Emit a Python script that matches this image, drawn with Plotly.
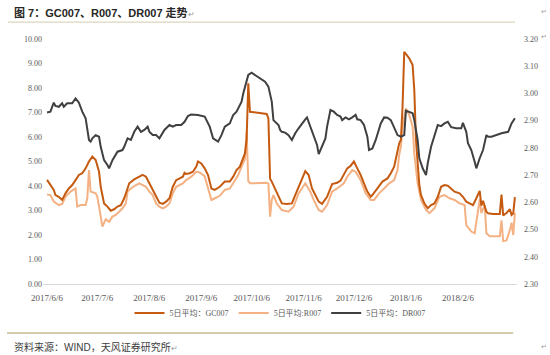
import plotly.graph_objects as go

# ---------------- data ----------------
gc_dates = ["2017-06-06","2017-06-10","2017-06-11","2017-06-13","2017-06-15","2017-06-17","2017-06-19","2017-06-21","2017-06-23","2017-06-25",
            "2017-06-27","2017-06-29","2017-07-01","2017-07-03","2017-07-05","2017-07-07","2017-07-08","2017-07-10","2017-07-12","2017-07-14",
            "2017-07-16","2017-07-18","2017-07-20","2017-07-22","2017-07-24","2017-07-25","2017-07-28","2017-07-31","2017-08-02","2017-08-04",
            "2017-08-06","2017-08-08","2017-08-10","2017-08-12","2017-08-14","2017-08-16","2017-08-18","2017-08-20","2017-08-22","2017-08-24",
            "2017-08-26","2017-08-27","2017-08-28","2017-08-30","2017-09-01","2017-09-03","2017-09-04","2017-09-06","2017-09-08","2017-09-10",
            "2017-09-12","2017-09-14","2017-09-17","2017-09-20","2017-09-23","2017-09-25","2017-09-27","2017-09-29","2017-10-02","2017-10-03",
            "2017-10-04","2017-10-05","2017-10-15","2017-10-16","2017-10-17","2017-10-18","2017-10-20","2017-10-22","2017-10-24","2017-10-27",
            "2017-10-30","2017-11-01","2017-11-03","2017-11-05","2017-11-07","2017-11-09","2017-11-11","2017-11-13","2017-11-15","2017-11-17",
            "2017-11-20","2017-11-23","2017-11-26","2017-11-28","2017-11-30","2017-12-02","2017-12-04","2017-12-06","2017-12-08","2017-12-10",
            "2017-12-12","2017-12-14","2017-12-16","2017-12-17","2017-12-20","2017-12-23","2017-12-26","2017-12-28","2017-12-30","2018-01-01",
            "2018-01-02","2018-01-03","2018-01-04","2018-01-05","2018-01-08","2018-01-10","2018-01-11","2018-01-12","2018-01-14","2018-01-15",
            "2018-01-17","2018-01-19","2018-01-21","2018-01-23","2018-01-25","2018-01-27","2018-01-29","2018-01-31","2018-02-02","2018-02-04",
            "2018-02-07","2018-02-09","2018-02-11","2018-02-13","2018-02-15","2018-02-17","2018-02-19","2018-02-20","2018-02-21","2018-02-23",
            "2018-02-24","2018-02-27","2018-03-03","2018-03-04","2018-03-05","2018-03-07","2018-03-09","2018-03-10","2018-03-11","2018-03-12"]
gc_values = [4.25,3.84,3.63,3.56,3.43,3.70,3.90,4.04,4.24,4.45,
             4.52,4.72,5.00,5.20,5.06,4.58,3.97,3.29,3.16,2.99,
             3.05,3.16,3.22,3.50,3.90,4.11,4.27,4.38,4.45,4.38,
             4.11,3.90,3.63,3.32,3.27,3.36,3.50,3.97,4.24,4.31,
             4.38,4.54,4.49,4.52,4.58,4.79,5.00,4.92,4.72,4.45,
             3.90,3.84,3.97,4.18,4.18,4.38,4.65,4.79,5.33,5.88,
             8.19,7.03,6.94,6.76,4.30,4.18,3.90,3.56,3.29,3.27,
             3.29,3.63,3.97,4.24,4.61,4.45,3.90,3.63,3.36,3.27,
             3.56,4.08,4.13,4.22,4.45,4.72,4.82,5.00,4.72,4.45,
             4.11,3.77,3.56,3.63,3.90,4.18,4.31,4.52,4.79,5.47,
             5.74,5.88,7.24,9.48,9.21,8.94,7.92,5.88,4.04,3.63,
             3.29,3.09,3.22,3.29,3.56,3.97,4.04,4.01,3.87,3.77,
             3.70,3.56,3.36,3.29,3.22,3.50,3.80,3.20,3.40,2.95,
             2.89,2.86,2.86,3.65,2.80,2.90,3.05,2.82,2.88,3.55]

r_dates = ["2017-06-06","2017-06-08","2017-06-10","2017-06-13","2017-06-15","2017-06-17","2017-06-20","2017-06-22","2017-06-23","2017-06-24",
           "2017-06-26","2017-06-29","2017-06-30","2017-07-01","2017-07-02","2017-07-05","2017-07-06","2017-07-07","2017-07-09","2017-07-11",
           "2017-07-13","2017-07-15","2017-07-17","2017-07-19","2017-07-21","2017-07-23","2017-07-24","2017-07-26","2017-07-28","2017-07-31",
           "2017-08-02","2017-08-04","2017-08-06","2017-08-08","2017-08-10","2017-08-12","2017-08-14","2017-08-16","2017-08-18","2017-08-20",
           "2017-08-22","2017-08-24","2017-08-26","2017-08-28","2017-08-31","2017-09-03","2017-09-05","2017-09-08","2017-09-10","2017-09-11",
           "2017-09-12","2017-09-14","2017-09-16","2017-09-17","2017-09-20","2017-09-23","2017-09-25","2017-09-28","2017-09-30","2017-10-02",
           "2017-10-03","2017-10-04","2017-10-05","2017-10-15","2017-10-16","2017-10-17","2017-10-18","2017-10-19","2017-10-21","2017-10-24",
           "2017-10-28","2017-10-31","2017-11-03","2017-11-05","2017-11-07","2017-11-10","2017-11-12","2017-11-15","2017-11-17","2017-11-20",
           "2017-11-23","2017-11-26","2017-11-30","2017-12-02","2017-12-05","2017-12-07","2017-12-10","2017-12-13","2017-12-16","2017-12-18",
           "2017-12-21","2017-12-24","2017-12-27","2017-12-30","2018-01-01","2018-01-02","2018-01-03","2018-01-04","2018-01-06","2018-01-08",
           "2018-01-10","2018-01-11","2018-01-13","2018-01-15","2018-01-18","2018-01-20","2018-01-23","2018-01-26","2018-01-29","2018-02-01",
           "2018-02-04","2018-02-07","2018-02-10","2018-02-11","2018-02-14","2018-02-16","2018-02-18","2018-02-19","2018-02-20","2018-02-22",
           "2018-02-23","2018-02-25","2018-03-03","2018-03-04","2018-03-05","2018-03-07","2018-03-09","2018-03-10","2018-03-11","2018-03-12"]
r_values = [3.65,3.63,3.36,3.22,3.27,3.56,3.77,3.84,3.90,3.16,
            3.22,3.22,3.50,4.65,3.77,3.70,3.56,3.16,2.34,2.64,
            2.54,2.75,2.82,2.95,3.09,3.29,3.77,3.90,4.00,4.11,
            4.04,3.97,3.77,3.63,3.29,3.16,3.09,3.16,3.29,3.70,
            3.97,4.04,4.11,4.24,4.38,4.58,4.55,4.40,3.90,3.70,
            3.43,3.50,3.56,3.60,3.84,3.90,4.11,4.45,4.79,5.10,
            6.22,4.20,4.11,4.13,4.10,2.75,3.43,3.63,3.29,3.02,
            2.95,3.16,3.70,3.90,4.11,3.77,3.43,3.02,2.95,3.22,
            3.77,3.90,4.11,4.38,4.65,4.58,4.24,3.70,3.43,3.43,
            3.70,3.90,4.11,4.24,4.65,5.27,5.60,6.42,7.17,6.90,
            6.42,5.33,4.11,3.43,3.02,2.89,3.09,3.56,3.63,3.50,
            3.43,3.29,3.22,2.40,2.14,2.07,3.00,3.45,2.89,3.22,
            2.07,1.95,1.95,2.60,1.75,1.78,2.20,2.50,2.00,2.90]

dr_dates = ["2017-06-06","2017-06-08","2017-06-10","2017-06-11","2017-06-13","2017-06-15","2017-06-16","2017-06-18","2017-06-21","2017-06-23",
            "2017-06-25","2017-06-27","2017-06-29","2017-06-30","2017-07-01","2017-07-02","2017-07-03","2017-07-05","2017-07-07","2017-07-08",
            "2017-07-10","2017-07-12","2017-07-13","2017-07-15","2017-07-17","2017-07-18","2017-07-21","2017-07-22","2017-07-24","2017-07-26",
            "2017-07-28","2017-07-30","2017-08-01","2017-08-03","2017-08-05","2017-08-06","2017-08-08","2017-08-10","2017-08-12","2017-08-13",
            "2017-08-15","2017-08-18","2017-08-20","2017-08-22","2017-08-25","2017-08-27","2017-08-29","2017-08-31","2017-09-04","2017-09-08",
            "2017-09-11","2017-09-13","2017-09-16","2017-09-18","2017-09-20","2017-09-23","2017-09-25","2017-09-27","2017-09-29","2017-09-30",
            "2017-10-01","2017-10-03","2017-10-04","2017-10-06","2017-10-08","2017-10-11","2017-10-14","2017-10-16","2017-10-17","2017-10-18",
            "2017-10-19","2017-10-20","2017-10-22","2017-10-23","2017-10-24","2017-10-26","2017-10-28","2017-10-30","2017-11-01","2017-11-03",
            "2017-11-05","2017-11-07","2017-11-08","2017-11-10","2017-11-12","2017-11-14","2017-11-15","2017-11-17","2017-11-19","2017-11-20",
            "2017-11-22","2017-11-24","2017-11-26","2017-11-28","2017-11-29","2017-12-01","2017-12-03","2017-12-05","2017-12-07","2017-12-08",
            "2017-12-10","2017-12-12","2017-12-14","2017-12-15","2017-12-17","2017-12-19","2017-12-22","2017-12-24","2017-12-26","2017-12-28",
            "2017-12-30","2018-01-01","2018-01-03","2018-01-05","2018-01-06","2018-01-08","2018-01-10","2018-01-11","2018-01-13","2018-01-14",
            "2018-01-16","2018-01-18","2018-01-19","2018-01-21","2018-01-23","2018-01-25","2018-01-27","2018-01-29","2018-01-31","2018-02-02",
            "2018-02-05","2018-02-08","2018-02-09","2018-02-11","2018-02-12","2018-02-14","2018-02-16","2018-02-17","2018-02-19","2018-02-21",
            "2018-02-23","2018-02-24","2018-02-26","2018-03-01","2018-03-04","2018-03-08","2018-03-10","2018-03-12"]
dr_values = [2.930,2.933,2.966,2.954,2.951,2.964,2.951,2.964,2.964,2.982,
             2.966,2.933,2.909,2.866,2.829,2.823,2.835,2.847,2.841,2.804,
             2.755,2.737,2.725,2.755,2.774,2.786,2.792,2.804,2.835,2.829,
             2.859,2.878,2.859,2.866,2.878,2.859,2.847,2.847,2.835,2.847,
             2.866,2.884,2.878,2.884,2.884,2.896,2.917,2.923,2.921,2.915,
             2.878,2.835,2.823,2.847,2.878,2.890,2.921,2.933,2.957,2.970,
             3.000,3.043,3.068,3.076,3.068,3.056,3.043,3.025,3.000,2.970,
             2.902,2.896,2.884,2.866,2.859,2.856,2.847,2.829,2.854,2.872,
             2.890,2.905,2.912,2.878,2.847,2.811,2.777,2.804,2.835,2.878,
             2.939,2.933,2.921,2.915,2.902,2.912,2.905,2.912,2.921,2.905,
             2.902,2.884,2.841,2.792,2.798,2.829,2.890,2.912,2.911,2.902,
             2.872,2.847,2.841,2.847,2.937,2.933,2.927,2.902,2.829,2.762,
             2.725,2.700,2.743,2.804,2.841,2.884,2.880,2.890,2.896,2.876,
             2.872,2.872,2.892,2.859,2.817,2.792,2.749,2.725,2.762,2.792,
             2.847,2.841,2.841,2.847,2.854,2.859,2.890,2.909]

series_names = ["5日平均：GC007", "5日平均:R007", "5日平均：DR007"]
x_tick_vals = ["2017-06-06","2017-07-06","2017-08-06","2017-09-06","2017-10-06",
               "2017-11-06","2017-12-06","2018-01-06","2018-02-06"]
x_tick_text = ["2017/6/6","2017/7/6","2017/8/6","2017/9/6","2017/10/6",
               "2017/11/6","2017/12/6","2018/1/6","2018/2/6"]
left_ticks = [0,1,2,3,4,5,6,7,8,9,10]
left_tick_text = ["0.00","1.00","2.00","3.00","4.00","5.00","6.00","7.00","8.00","9.00","10.00"]
right_ticks = [2.3,2.4,2.5,2.6,2.7,2.8,2.9,3.0,3.1,3.2]
right_tick_text = ["2.30","2.40","2.50","2.60","2.70","2.80","2.90","3.00","3.10","3.20"]

title_text = "图 7：GC007、R007、DR007 走势"
source_text = "资料来源：WIND，天风证券研究所"

# ---------------- figure ----------------
SERIF = "Liberation Serif, Times New Roman, Noto Sans CJK SC, serif"
SANS = "Liberation Sans, Arial, Noto Sans CJK SC, sans-serif"

fig = go.Figure()
fig.add_trace(go.Scatter(x=r_dates, y=r_values, name=series_names[1], mode="lines",
                         line=dict(color="#F4B183", width=2), yaxis="y", legendrank=2))
fig.add_trace(go.Scatter(x=gc_dates, y=gc_values, name=series_names[0], mode="lines",
                         line=dict(color="#C55A11", width=2), yaxis="y", legendrank=1))
fig.add_trace(go.Scatter(x=dr_dates, y=dr_values, name=series_names[2], mode="lines",
                         line=dict(color="#404040", width=2), yaxis="y2", legendrank=3))

fig.update_layout(
    width=550, height=355, autosize=False,
    margin=dict(l=43, r=33, t=39, b=71, pad=0),
    paper_bgcolor="white", plot_bgcolor="white",
    showlegend=True,
    legend=dict(orientation="h", x=0.5, xanchor="center", y=-0.118, yanchor="middle",
                font=dict(family=SERIF, size=8, color="#595959"),
                itemwidth=30, bgcolor="rgba(0,0,0,0)"),
    xaxis=dict(type="date", range=["2017-06-03 14:00", "2018-03-13 06:00"],
               tickvals=x_tick_vals, ticktext=x_tick_text, showgrid=False,
               showline=True, linecolor="#D9D9D9", linewidth=1, ticks="",
               ticklabelstandoff=5,
               tickfont=dict(family=SERIF, size=9, color="#595959"), zeroline=False),
    yaxis=dict(range=[0, 10], tickvals=left_ticks, ticktext=left_tick_text, showgrid=False,
               zeroline=False, showline=False, ticks="",
               tickfont=dict(family=SERIF, size=8, color="#595959")),
    yaxis2=dict(range=[2.3, 3.2], tickvals=right_ticks, ticktext=right_tick_text, overlaying="y",
                side="right", showgrid=False, zeroline=False, showline=False, ticks="",
                ticklabelstandoff=6,
                tickfont=dict(family=SERIF, size=8, color="#595959")),
)

# title and source
fig.add_annotation(xref="paper", yref="paper", x=-0.065, y=1.110, xanchor="left", yanchor="middle",
                   text="<b>" + title_text + "</b><span style='font-size:8px;color:#999999'>↵</span>",
                   showarrow=False, font=dict(family=SANS, size=11, color="#262626"))
fig.add_annotation(xref="paper", yref="paper", x=-0.065, y=-0.257, xanchor="left", yanchor="middle",
                   text=source_text + "<span style='font-size:8px;color:#999999'>↵</span>",
                   showarrow=False, font=dict(family=SANS, size=10, color="#404040"))
for yy in [1.110, -0.257, 1.008]:
    fig.add_annotation(xref="paper", yref="paper", x=1.056, y=yy, xanchor="center", yanchor="middle",
                       text="↵", showarrow=False, font=dict(family="DejaVu Sans", size=7, color="#999999"))

# header/footer rules
fig.add_shape(type="line", xref="paper", yref="paper", x0=-0.074, x1=0.996, y0=1.069, y1=1.069,
              line=dict(color="#D3CCAE", width=1))
fig.add_shape(type="line", xref="paper", yref="paper", x0=-0.076, x1=0.992, y0=-0.200, y1=-0.200,
              line=dict(color="#D3CCAE", width=2))

fig.write_html("out.html", config={"displayModeBar": False},
               post_script="document.body.style.margin='0';")
